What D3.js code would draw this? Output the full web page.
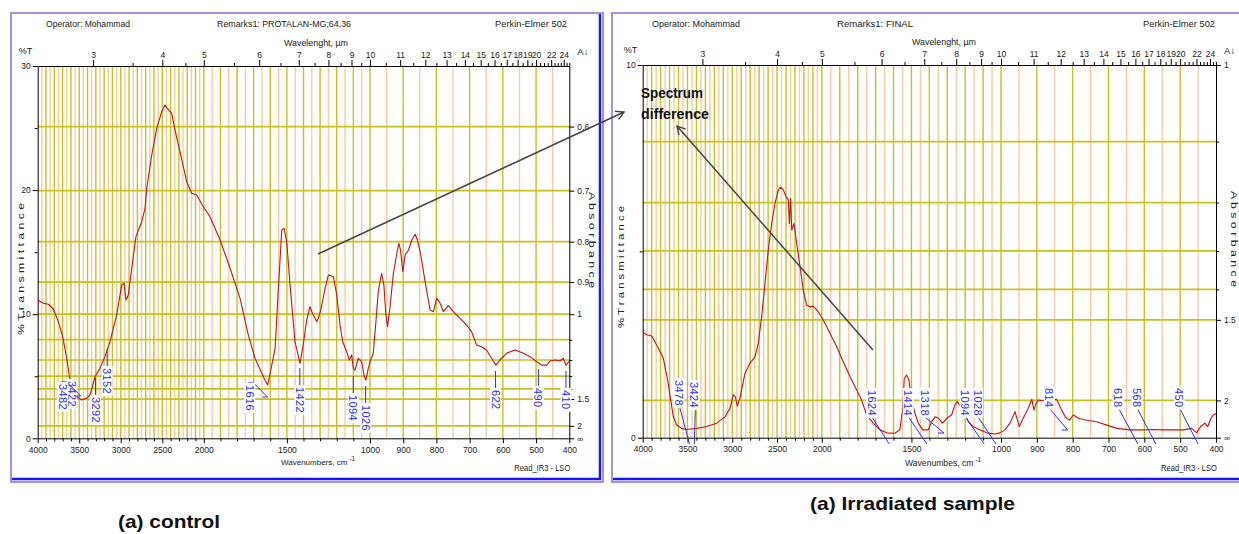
<!DOCTYPE html>
<html><head><meta charset="utf-8">
<script src="https://cdn.jsdelivr.net/npm/d3@7/dist/d3.min.js"></script>
<style>
body{margin:0;background:#fff;}
svg{display:block;}
text{font-family:"Liberation Sans",Arial,sans-serif;}
</style></head><body>
<svg id="c" width="1239" height="534"></svg>
<script>
// ---------------- DATA ----------------
// Control sample: wavenumber (cm-1) and %T
const ctrlWn=[4000,3933,3872,3812,3752,3699,3651,3611,3579,3530,3470,3410,3370,3310,3250,3190,3130,3049,2989,2961,2937,2909,2868,2817,2748,2708,2687,2627,2567,2507,2467,2440,2387,2347,2287,2206,2146,2086,2006,1963,1902,1842,1782,1732,1692,1651,1632,1615,1591,1571,1551,1531,1517,1501,1481,1451,1421,1401,1381,1361,1350,1320,1311,1296,1270,1250,1220,1200,1180,1164,1140,1124,1110,1100,1090,1070,1050,1034,1024,1010,998,990,982,975,965,958,952,947,940,930,920,913,908,901,894,884,874,864,857,847,834,819,809,799,791,779,764,749,729,709,694,679,664,649,634,621,609,589,563,538,518,498,483,468,458,443,428,418,410,400];
const ctrlT=[11.14,10.88,10.8,10.42,9.4,8.19,6.45,4.7,3.76,3.35,3.09,3.22,3.49,4.96,5.64,6.58,7.78,9.94,12.35,12.49,11.14,11.55,13.7,16.25,17.45,18.53,20.15,22.83,24.98,26.32,26.86,26.59,26.19,24.84,23.1,20.68,19.74,19.6,18.66,17.86,15.98,13.7,11.28,8.32,6.45,5.24,4.7,4.3,5.9,7.25,12.09,16.78,16.92,15.84,12.35,7.78,6.04,7.6,9.5,10.6,10.2,9.4,9.67,10.34,12.09,13.16,13.02,11.55,9.13,7.78,6.98,6.31,6.71,5.64,5.5,6.45,6.17,4.96,4.7,5.64,6.31,6.85,9.4,11.82,13.3,12.35,9.94,9.0,10.48,13.16,14.77,15.71,15.17,13.42,14.77,15.17,15.98,16.44,15.98,14.77,12.62,10.34,10.2,11.28,11.01,10.2,10.69,10.2,9.67,9.13,8.59,7.52,7.38,7.12,6.45,5.9,6.31,6.85,7.12,6.85,6.58,6.17,5.9,5.9,6.23,6.31,6.23,6.45,5.9,6.23];
// Irradiated sample
const irrWn=[4000,3955,3900,3874,3844,3815,3770,3725,3687,3658,3620,3565,3509,3397,3286,3174,3081,3025,2989,2966,2944,2914,2858,2802,2746,2710,2672,2635,2598,2560,2523,2486,2459,2430,2400,2374,2363,2348,2336,2311,2281,2244,2207,2170,2133,2096,2040,1992,1955,1917,1881,1843,1806,1778,1750,1713,1676,1638,1592,1565,1549,1540,1527,1514,1499,1480,1462,1437,1406,1387,1368,1349,1326,1303,1276,1257,1244,1197,1183,1155,1117,1080,1033,1006,989,975,961,949,938,924,914,908,902,896,886,845,835,821,809,798,784,761,733,696,677,640,603,575,547,519,491,468,454,443,431,423,414,408,400];
const irrT=[2.82,2.76,2.73,2.62,2.49,2.35,2.13,1.59,1.01,0.56,0.34,0.25,0.22,0.25,0.30,0.39,0.56,0.79,1.15,1.10,0.85,1.06,1.73,2.0,2.17,2.53,3.25,4.14,5.04,5.75,6.29,6.65,6.72,6.65,6.47,6.38,5.75,6.42,5.57,5.75,5.22,4.59,3.96,3.56,3.51,3.53,3.38,3.16,2.8,2.44,2.04,1.64,1.28,1.01,0.61,0.39,0.21,0.13,0.12,0.21,0.74,1.59,1.68,1.55,1.0,0.65,0.39,0.21,0.21,0.43,0.56,0.52,0.39,0.52,0.61,0.88,0.97,0.61,0.43,0.3,0.21,0.13,0.1,0.13,0.21,0.39,0.7,0.3,0.52,0.79,1.03,0.74,0.92,1.01,0.99,1.03,0.83,0.56,0.47,0.61,0.52,0.47,0.43,0.31,0.25,0.21,0.21,0.22,0.21,0.21,0.21,0.25,0.13,0.3,0.39,0.3,0.52,0.61,0.64];
// Peak labels
const ctrlPeaks=[3422,3482,3292,3152,1616,1422,1094,1026,622,490,410];
const irrPeaks=[3478,3424,1624,1414,1318,1094,1028,814,618,568,450];
// Axis ticks
const bottomTicks=[4000,3500,3000,2500,2000,1500,1000,900,800,700,600,500,400];
const bottomMinor=[3900,3800,3700,3600,3400,3300,3200,3100,2900,2800,2700,2600,2400,2300,2200,2100,1900,1800,1700,1600,1400,1300,1200,1100];
const topLabels=[3,4,5,6,7,8,9,10,11,12,13,14,15,16,17,18,19,20,22,24];
const topMinor=[3.5,4.5,5.5,6.5,7.5,8.5,9.5,10.5,11.5,12.5,13.5,14.5,15.5,16.5,17.5,18.5,19.5,20.5,21,21.5,22.5,23,23.5,24.5,25];
const ctrlTTicks=[0,10,20,30], ctrlTMinor=[5,15,25];
const irrTTicks=[0,10], irrTMinor=[5];
const ctrlAGrid=[0.6,0.7,0.8,0.9,1.0,1.1,1.2,1.3,1.4,1.5,2];
const ctrlALabels=[0.6,0.7,0.8,0.9,1,1.5,2,Infinity];
const irrAGrid=[1.1,1.2,1.3,1.4,1.5,2];
const irrALabels=[1,1.5,2,Infinity];

// ---------------- DRAW ----------------
const svg=d3.select("#c");
const OLIVE="#c8c21c", ORANGE="#fbcba6", RED="#cc1010", LBLUE="#2d2dff";
const tOfA=a=>100*Math.pow(10,-a);

function styleAxis(sel,fs){
  sel.select(".domain").attr("stroke","#000").attr("stroke-width",1);
  sel.selectAll(".tick line").attr("stroke","#000");
  sel.selectAll("text").attr("font-size",fs).attr("fill","#1a1a1a").attr("font-family",'"Liberation Sans",Arial,sans-serif');
}

function drawPanel(p){
  const g=svg.append("g");
  // frame
  g.append("rect").attr("x",p.fx0).attr("y",p.fy0).attr("width",p.fx1-p.fx0).attr("height",p.fy1-p.fy0)
    .attr("fill","#fff").attr("stroke","#a891dd").attr("stroke-width",2);
  g.append("path").attr("d",`M${p.fx0+1},${p.fy1-3}H${p.fx1-3}V${p.fy0+1}`)
    .attr("fill","none").attr("stroke","#1414ff").attr("stroke-width",2.5);

  const w=p.x1-p.x0;
  const x=d3.scaleLinear().domain([4000,2000,1000,400])
    .range([p.x0,p.x0+w*2000/6400,p.x0+w*4000/6400,p.x1]);
  const y=d3.scaleLinear().domain([0,p.tmax]).range([p.yb,p.yt]);

  // vertical grid
  const vg=d3.range(3950,400,-50);
  g.append("g").selectAll("line").data(vg.filter(d=>d%100!==0)).join("line")
    .attr("x1",d=>x(d)).attr("x2",d=>x(d)).attr("y1",p.yt).attr("y2",p.yb)
    .attr("stroke",ORANGE).attr("stroke-width",1.4);
  g.append("g").selectAll("line").data(vg.filter(d=>d%100===0)).join("line")
    .attr("x1",d=>x(d)).attr("x2",d=>x(d)).attr("y1",p.yt).attr("y2",p.yb)
    .attr("stroke",OLIVE).attr("stroke-width",1.4);
  // horizontal grid (absorbance)
  g.append("g").selectAll("line").data(p.aGrid).join("line")
    .attr("x1",p.x0).attr("x2",p.x1).attr("y1",d=>y(tOfA(d))).attr("y2",d=>y(tOfA(d)))
    .attr("stroke",OLIVE).attr("stroke-width",1.7);

  // axes
  const ax=g.append("g").attr("transform",`translate(0,${p.yb})`)
    .call(d3.axisBottom(x).tickValues(bottomTicks).tickSize(5).tickSizeOuter(0).tickPadding(3.5).tickFormat(d3.format("d")));
  styleAxis(ax,"8.5px");
  const axm=g.append("g").attr("transform",`translate(0,${p.yb})`)
    .call(d3.axisBottom(x).tickValues(bottomMinor).tickSize(3).tickSizeOuter(0).tickFormat(""));
  styleAxis(axm,"8px"); axm.select(".domain").remove();

  const at=g.append("g").attr("transform",`translate(0,${p.yt})`)
    .call(d3.axisTop(x).tickValues(topLabels.map(l=>10000/l)).tickSize(6).tickSizeOuter(0).tickPadding(2.5)
      .tickFormat((d,i)=>topLabels[i]));
  styleAxis(at,"8.5px");
  const atm=g.append("g").attr("transform",`translate(0,${p.yt})`)
    .call(d3.axisTop(x).tickValues(topMinor.map(l=>10000/l)).tickSize(3).tickSizeOuter(0).tickFormat(""));
  styleAxis(atm,"8px"); atm.select(".domain").remove();

  const al=g.append("g").attr("transform",`translate(${p.x0},0)`)
    .call(d3.axisLeft(y).tickValues(p.tTicks).tickSize(5).tickSizeOuter(0).tickPadding(2));
  styleAxis(al,"8.5px");
  const alm=g.append("g").attr("transform",`translate(${p.x0},0)`)
    .call(d3.axisLeft(y).tickValues(p.tMinor).tickSize(3).tickSizeOuter(0).tickFormat(""));
  styleAxis(alm,"8px"); alm.select(".domain").remove();

  const ar=g.append("g").attr("transform",`translate(${p.x1},0)`)
    .call(d3.axisRight(y).tickValues(p.aLabels.map(tOfA)).tickSize(5).tickSizeOuter(0).tickPadding(3)
      .tickFormat((d,i)=>p.aLabels[i]===Infinity?"∞":String(p.aLabels[i])));
  styleAxis(ar,"8.5px");
  const minorA=p.aGrid.filter(a=>!p.aLabels.includes(a));
  const arm=g.append("g").attr("transform",`translate(${p.x1},0)`)
    .call(d3.axisRight(y).tickValues(minorA.map(tOfA)).tickSize(3).tickSizeOuter(0).tickFormat(""));
  styleAxis(arm,"8px"); arm.select(".domain").remove();

  // curve
  const pts=p.wn.map((d,i)=>[d,p.t[i]]);
  g.append("path").datum(pts).attr("fill","none").attr("stroke",RED).attr("stroke-width",1.1)
    .attr("stroke-linejoin","round")
    .attr("d",d3.line().x(d=>x(d[0])).y(d=>y(d[1])));

  // peak labels
  p.peaks.forEach((wn,i)=>{
    const L=p.layout[i];
    const xw=x(wn), lx=xw+L.dx, top=L.top;
    const lg=g.append("g");
    const tg=lg.append("g").attr("transform",`translate(${lx},${top}) rotate(90)`);
    const rect=tg.append("rect").attr("fill","#fff");
    const t=tg.append("text").text(String(wn)).attr("x",0).attr("y",0)
      .attr("dominant-baseline","central").attr("font-size","11px").attr("fill",LBLUE)
      .attr("letter-spacing","0.4px");
    const len=t.node().getComputedTextLength();
    rect.attr("x",-2).attr("y",-5.5).attr("width",len+4).attr("height",11);
    const bottom=top+len;
    let d;
    if(L.kind==="v"){ d=`M${lx},${top-1}V${top-19}`; }
    else if(L.kind==="z"){ d=`M${lx-2},${top-2}H${lx+4}L${xw},${top+12}H${xw-5}`; }
    else if(L.kind==="d"){
      const ey=L.endY||p.leadEnd;
      d=`M${lx+1},${bottom+2}L${xw},${ey}`;
      if(L.hook) d+=`H${xw-6}`;
    } else d=null;
    if(d) lg.insert("path",":first-child").attr("d",d).attr("fill","none").attr("stroke",LBLUE).attr("stroke-width",1);
  });

  // texts
  const T=(s,xx,yy,opt={})=>{
    const e=g.append("text").text(s).attr("x",xx).attr("y",yy)
      .attr("font-size",opt.fs||"9px").attr("fill",opt.fill||"#222")
      .attr("text-anchor",opt.anchor||"start");
    if(opt.tl) e.attr("textLength",opt.tl).attr("lengthAdjust","spacingAndGlyphs");
    if(opt.ls) e.attr("letter-spacing",opt.ls);
    if(opt.rot) e.attr("transform",`rotate(${opt.rot},${xx},${yy})`);
    return e;
  };
  T("Operator: Mohammad",p.hx[0],27,{tl:p.hw[0]});
  T(p.remark,p.hx[1],27,{tl:p.hw[1]});
  T("Perkin-Elmer 502",p.hx[2],27,{tl:p.hw[2]});
  T("Wavelenght, \u00b5m",p.wlx,p.wly,{anchor:"middle",tl:64});
  T("%T",p.x0-19,p.yt-12,{fs:"9px"});
  T("A\u2193",p.x1+8,p.yt-11,{fs:"9.5px"});
  const wt=T(p.wnTitle,p.wnx-p.wnw/2,p.wny,{fs:p.wnfs});
  wt.append("tspan").text("-1").attr("dx",2).attr("dy",-4).attr("font-size","6.5px");
  T("Read_IR3 - LSO",p.x1+1,471,{anchor:"end",tl:56});
  T("% T r a n s m i t t a n c e",p.ytx,p.yty,{anchor:"middle",fs:"9px",rot:-90,tl:p.ytl});
  T("A b s o r b a n c e",p.atx,p.aty,{anchor:"middle",fs:"9px",rot:90,tl:96});
  return {x,y};
}

drawPanel({
  fx0:11,fy0:13,fx1:603,fy1:482,
  x0:37.7,x1:569.3,yt:66,yb:438.3,tmax:30,
  wn:ctrlWn,t:ctrlT,peaks:ctrlPeaks,
  tTicks:ctrlTTicks,tMinor:ctrlTMinor,aGrid:ctrlAGrid,aLabels:ctrlALabels,
  layout:[
    {dx:-14,top:381,kind:"none"},
    {dx:-18,top:384,kind:"z"},
    {dx:-1,top:397,kind:"v"},
    {dx:-1,top:368,kind:"v"},
    {dx:-18,top:385,kind:"z"},
    {dx:0,top:387,kind:"v"},
    {dx:-1,top:395,kind:"v"},
    {dx:0,top:405,kind:"v"},
    {dx:0,top:390,kind:"v"},
    {dx:-1,top:388,kind:"v"},
    {dx:0,top:390,kind:"v"}],
  leadEnd:443,
  remark:"Remarks1: PROTALAN-MG;64,36",
  hx:[46,217,495],hw:[84,134,72],
  wlx:316,wly:46,
  wnTitle:"Wavenumbers, cm",wnx:314,wny:465,wnw:66,wnfs:"8px",
  ytx:24,yty:269,ytl:132,atx:589,aty:240
});

drawPanel({
  fx0:612,fy0:13,fx1:1260,fy1:482,
  x0:642.7,x1:1216,yt:65,yb:437.7,tmax:10,
  wn:irrWn,t:irrT,peaks:irrPeaks,
  tTicks:irrTTicks,tMinor:irrTMinor,aGrid:irrAGrid,aLabels:irrALabels,
  layout:[
    {dx:-10.5,top:380,kind:"d"},
    {dx:0,top:382,kind:"d"},
    {dx:-17.6,top:390,kind:"d"},
    {dx:-18.6,top:390,kind:"d"},
    {dx:-19,top:390,kind:"d",endY:433,hook:true},
    {dx:-19,top:390,kind:"d"},
    {dx:-18.3,top:390,kind:"d"},
    {dx:-18.3,top:388,kind:"d",endY:430,hook:true},
    {dx:-19.6,top:388,kind:"d"},
    {dx:-19,top:388,kind:"d"},
    {dx:-18.7,top:388,kind:"d"}],
  leadEnd:444,
  remark:"Remarks1: FINAL",
  hx:[652,837,1143],hw:[88,76,72],
  wlx:944,wly:45,
  wnTitle:"Wavenumbes, cm",wnx:940,wny:466,wnw:70,wnfs:"8.6px",
  ytx:624,yty:267,ytl:122,atx:1231,aty:239
});

// annotations
const defs=svg.append("defs");
defs.append("marker").attr("id","ah").attr("viewBox","-10 -6 12 12").attr("refX",0).attr("refY",0)
  .attr("markerWidth",12).attr("markerHeight",12).attr("markerUnits","userSpaceOnUse").attr("orient","auto")
  .append("path").attr("d","M-8,-4.5L0,0L-8,4.5").attr("fill","none").attr("stroke","#444").attr("stroke-width",1.4);
svg.append("line").attr("x1",318).attr("y1",254).attr("x2",624).attr("y2",112)
  .attr("stroke","#444").attr("stroke-width",1.5).attr("marker-end","url(#ah)");
svg.append("line").attr("x1",873).attr("y1",350).attr("x2",677).attr("y2",126)
  .attr("stroke","#444").attr("stroke-width",1.5).attr("marker-end","url(#ah)");
svg.append("text").text("Spectrum").attr("x",641).attr("y",98).attr("font-size","14px").attr("font-weight","bold")
  .attr("fill","#111").attr("textLength",62).attr("lengthAdjust","spacingAndGlyphs");
svg.append("text").text("difference").attr("x",641).attr("y",119).attr("font-size","14px").attr("font-weight","bold")
  .attr("fill","#111").attr("textLength",68).attr("lengthAdjust","spacingAndGlyphs");
// captions
svg.append("text").text("(a) control").attr("x",118).attr("y",528).attr("font-family","Lato, 'Open Sans', sans-serif")
  .attr("font-weight","bold").attr("font-size","19px").attr("fill","#111").attr("textLength",102).attr("lengthAdjust","spacingAndGlyphs");
svg.append("text").text("(a) Irradiated sample").attr("x",810).attr("y",510).attr("font-family","Lato, 'Open Sans', sans-serif")
  .attr("font-weight","bold").attr("font-size","19px").attr("fill","#111").attr("textLength",205).attr("lengthAdjust","spacingAndGlyphs");
</script>
</body></html>
